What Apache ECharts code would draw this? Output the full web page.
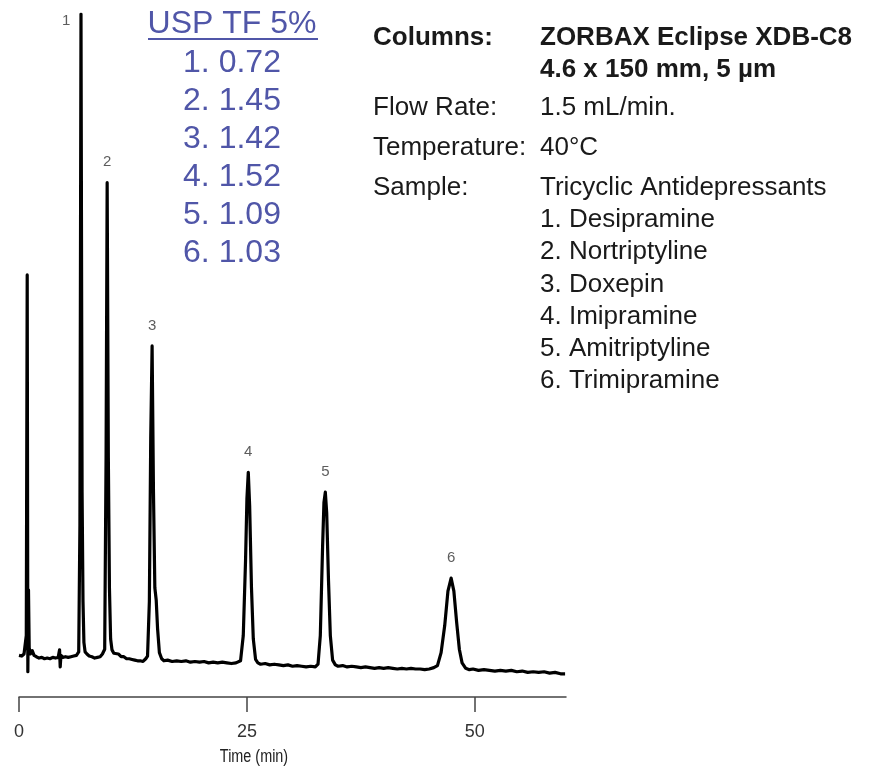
<!DOCTYPE html>
<html>
<head>
<meta charset="utf-8">
<script src="https://cdn.jsdelivr.net/npm/echarts@6/dist/echarts.min.js"></script>
<style>
  html, body { margin: 0; padding: 0; background: #fff; }
  #chart { width: 877px; height: 771px; }
</style>
</head>
<body>
<div id="chart"></div>
<script>
var myChart = echarts.init(document.getElementById("chart"));

// chromatogram trace: time (min) and signal (arbitrary units)
var traceTime = [
	0.00, 0.30, 0.55, 0.70, 0.80, 0.90, 0.97, 1.04, 1.12, 1.25, 1.45, 1.65, 1.90, 2.20, 2.50, 2.80,
	3.10, 3.40, 3.70, 4.00, 4.30, 4.45, 4.52, 4.60, 4.80, 5.10, 5.40, 5.70, 6.00, 6.30, 6.55, 6.68,
	6.80, 6.92, 7.02, 7.12, 7.25, 7.45, 7.70, 8.00, 8.30, 8.60, 8.90, 9.15, 9.40, 9.55, 9.67, 9.80,
	9.92, 10.05, 10.20, 10.40, 10.60, 10.90, 11.20, 11.50, 11.80, 12.10, 12.40, 12.70, 13.00, 13.30, 13.60, 13.90,
	14.10, 14.30, 14.45, 14.60, 14.75, 14.90, 15.05, 15.20, 15.40, 15.65, 15.90, 16.30, 16.80, 17.30, 17.80, 18.30,
	18.80, 19.30, 19.80, 20.30, 20.80, 21.30, 21.80, 22.30, 22.80, 23.30, 23.80, 24.30, 24.60, 24.85, 25.00, 25.15,
	25.30, 25.50, 25.70, 25.95, 26.20, 26.50, 27.00, 27.50, 28.00, 28.50, 29.00, 29.50, 30.00, 30.50, 31.00, 31.50,
	32.00, 32.50, 32.80, 33.05, 33.30, 33.45, 33.60, 33.75, 33.95, 34.15, 34.40, 34.70, 35.00, 35.50, 36.00, 36.50,
	37.00, 37.50, 38.00, 38.50, 39.00, 39.50, 40.00, 40.50, 41.00, 41.50, 42.00, 42.50, 43.00, 43.50, 44.00, 44.50,
	45.00, 45.50, 45.90, 46.30, 46.70, 47.05, 47.40, 47.70, 48.00, 48.30, 48.60, 49.00, 49.40, 49.80, 50.40, 51.00,
	51.60, 52.20, 52.80, 53.40, 54.00, 54.60, 55.20, 55.80, 56.40, 57.00, 57.60, 58.20, 58.80, 59.40, 59.90
];
var traceSignal = [
	6.1, 6.0, 6.3, 6.1, 9.0, 61.8, 3.7, 15.7, 7.2, 6.3, 6.8, 6.1, 5.9, 5.7, 5.8, 5.6,
	5.7, 5.6, 5.8, 5.7, 5.8, 6.9, 4.4, 6.1, 5.8, 5.9, 5.8, 5.9, 6.0, 6.1, 6.6, 25.0,
	100, 30.0, 14.0, 8.0, 6.6, 6.3, 6.0, 5.9, 5.7, 5.8, 5.9, 6.3, 7.0, 35.0, 75.3, 35.0,
	16.0, 8.5, 6.9, 6.4, 6.2, 6.3, 5.9, 5.9, 5.6, 5.6, 5.5, 5.4, 5.3, 5.3, 5.2, 5.6,
	6.0, 14.0, 38.0, 51.4, 30.0, 16.0, 14.2, 10.0, 6.5, 5.6, 5.3, 5.4, 5.2, 5.3, 5.2, 5.3,
	5.1, 5.2, 5.1, 5.2, 5.0, 5.1, 5.0, 5.1, 5.0, 4.9, 5.0, 5.3, 9.0, 20.0, 29.0, 32.9,
	28.0, 16.0, 8.5, 5.5, 5.0, 4.8, 4.9, 4.7, 4.8, 4.7, 4.6, 4.7, 4.5, 4.6, 4.5, 4.4,
	4.5, 4.4, 4.8, 9.0, 22.0, 28.5, 30.0, 27.0, 17.0, 9.0, 5.4, 4.7, 4.5, 4.6, 4.4, 4.5,
	4.4, 4.3, 4.4, 4.3, 4.2, 4.3, 4.2, 4.3, 4.2, 4.1, 4.2, 4.1, 4.2, 4.1, 4.1, 4.0,
	4.1, 4.3, 4.6, 6.5, 10.5, 15.5, 17.4, 15.5, 11.0, 7.0, 5.0, 4.2, 4.0, 4.1, 3.9, 4.0,
	3.9, 3.8, 3.9, 3.8, 3.9, 3.7, 3.8, 3.6, 3.7, 3.6, 3.7, 3.5, 3.6, 3.4, 3.4
];

// numbered peaks
var peakNames = ["1", "2", "3", "4", "5", "6"];
var peakTimes = [6.8, 9.67, 14.6, 25.15, 33.6, 47.4];
var peakHeights = [100, 75.3, 51.4, 32.9, 30.0, 17.4];

var xTicks = [0, 25, 50];

// USP tailing factors
var tfTitle = "USP TF 5%";
var tfValues = ["1. 0.72", "2. 1.45", "3. 1.42", "4. 1.52", "5. 1.09", "6. 1.03"];

// conditions block
var condLabels = ["Columns:", "", "Flow Rate:", "Temperature:", "Sample:"];
var condValues = ["ZORBAX Eclipse XDB-C8", "4.6 x 150 mm, 5 µm", "1.5 mL/min.", "40°C", "Tricyclic Antidepressants"];
var compounds = ["1. Desipramine", "2. Nortriptyline", "3. Doxepin", "4. Imipramine", "5. Amitriptyline", "6. Trimipramine"];

var trace = traceTime.map(function (t, i) { return [t, traceSignal[i]]; });
var peaks = peakTimes.map(function (t, i) { return { name: peakNames[i], value: [t, peakHeights[i]] }; });

var blue = "#5056a8";
var textFont = '26px "Liberation Sans", Arial, sans-serif';
var boldFont = 'bold 26px "Liberation Sans", Arial, sans-serif';

var graphic = [];
graphic.push({
	type: "text", x: 232, y: 24,
	style: { text: tfTitle, fill: blue, font: '32px "Liberation Sans", Arial, sans-serif', align: "center", verticalAlign: "middle" }
});
graphic.push({
	type: "line",
	shape: { x1: 148, y1: 39, x2: 318, y2: 39 },
	style: { stroke: blue, lineWidth: 2 }
});
tfValues.forEach(function (s, i) {
	graphic.push({
		type: "text", x: 232, y: 63 + i * 38,
		style: { text: s, fill: blue, font: '32px "Liberation Sans", Arial, sans-serif', align: "center", verticalAlign: "middle" }
	});
});

var condY = [38, 70, 108, 148, 188];
condLabels.forEach(function (s, i) {
	var bold = i < 2;
	if (s) {
		graphic.push({
			type: "text", x: 373, y: condY[i],
			style: { text: s, fill: "#1a1a1a", font: bold ? boldFont : textFont, verticalAlign: "middle" }
		});
	}
	graphic.push({
		type: "text", x: 540, y: condY[i],
		style: { text: condValues[i], fill: "#1a1a1a", font: bold ? boldFont : textFont, verticalAlign: "middle" }
	});
});
compounds.forEach(function (s, i) {
	graphic.push({
		type: "text", x: 540, y: 220 + i * 32.2,
		style: { text: s, fill: "#1a1a1a", font: textFont, verticalAlign: "middle" }
	});
});
// narrow axis title
graphic.push({
	type: "text", x: 254, y: 757, scaleX: 0.8,
	style: { text: "Time (min)", fill: "#222", font: '18px "Liberation Sans", Arial, sans-serif', align: "center", verticalAlign: "middle" }
});

var option = {
	animation: false,
	backgroundColor: "#fff",
	grid: { left: 19, right: 311, top: 14, bottom: 74 },
	xAxis: {
		type: "value",
		min: 0,
		max: 60,
		interval: 25,
		axisLine: { show: true, onZero: false, lineStyle: { color: "#444", width: 1.5 } },
		axisTick: { show: true, length: 15, lineStyle: { color: "#444", width: 1.5 } },
		axisLabel: {
			margin: 26,
			color: "#333",
			fontSize: 18,
			fontFamily: "Liberation Sans",
			showMaxLabel: false,
			formatter: function (v) { return xTicks.indexOf(v) >= 0 ? String(v) : ""; }
		},
		splitLine: { show: false }
	},
	yAxis: {
		type: "value",
		min: 0,
		max: 100,
		show: false
	},
	graphic: graphic,
	series: [
		{
			type: "line",
			data: trace,
			showSymbol: false,
			symbol: "none",
			lineStyle: { color: "#000", width: 3.2, join: "round" },
			clip: true,
			z: 3
		},
		{
			type: "scatter",
			data: peaks,
			symbolSize: 0,
			label: {
				show: true,
				formatter: "{b}",
				color: "#333",
				fontSize: 15,
				fontFamily: "Liberation Sans",
				position: "top",
				distance: 13
			},
			labelLayout: function (params) {
				if (params.dataIndex === 0) {
					return { x: params.rect.x - 19, y: params.rect.y - 1 };
				}
			},
			z: 4
		}
	]
};

myChart.setOption(option);
</script>
</body>
</html>
